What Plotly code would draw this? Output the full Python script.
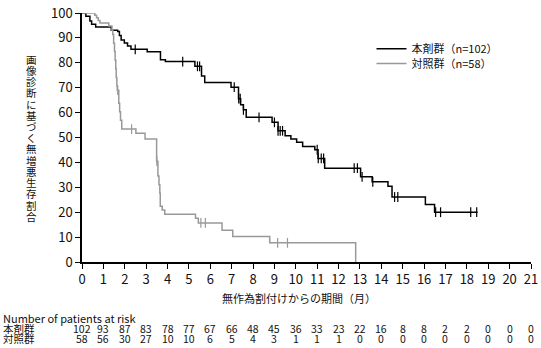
import plotly.graph_objects as go

# ---- data ----
months = list(range(0, 22))

drug_event_t = [0.18, 0.37, 0.45, 0.64, 1.37, 1.67, 1.75, 1.83, 1.98, 2.13, 2.29, 3.05, 3.67, 3.9,
                5.28, 5.59, 5.74, 6.97, 7.32, 7.42, 7.55, 7.68, 8.89, 9.17, 9.5, 9.77, 10.04, 10.32,
                10.89, 11.04, 11.35, 13.03, 13.57, 14.31, 14.5, 16.06, 16.49]
drug_event_s = [98.7, 96.8, 95.5, 94.4, 93.1, 92.6, 91.0, 89.2, 88.0, 86.7, 85.4, 84.4, 81.2, 80.5,
                78.6, 74.7, 72.1, 70.2, 65.6, 63.2, 61.1, 58.1, 56.1, 52.7, 50.7, 49.4, 48.1, 46.4,
                45.1, 41.6, 37.7, 34.2, 32.2, 30.4, 26.1, 23.1, 20.0]
drug_end = 18.5
drug_censor = [2.49, 4.71, 5.4, 5.5, 7.12, 7.33, 7.4, 7.55, 8.28, 9.0, 9.17, 9.27, 9.38, 11.0, 11.05,
               11.19, 11.3, 12.73, 12.88, 13.1, 13.6, 14.62, 14.77, 16.54, 16.77, 18.18, 18.46]

ctrl_event_t = [0.6, 0.68, 0.76, 0.84, 1.25, 1.4, 1.44, 1.48, 1.52, 1.55, 1.58, 1.6, 1.63, 1.65,
                1.72, 1.76, 1.8, 1.86, 2.52, 2.95, 3.49, 3.55, 3.6, 3.64, 3.66, 3.75, 3.87, 5.31,
                5.44, 6.55, 7.05, 8.78, 12.8]
ctrl_event_s = [99.1, 98.1, 97.0, 96.0, 94.8, 93.1, 91.4, 87.9, 84.5, 81.0, 77.6, 74.1, 70.7, 69.0,
                63.8, 60.3, 56.9, 53.4, 51.7, 49.4, 40.5, 34.5, 31.0, 27.6, 22.4, 20.9, 19.2, 17.6,
                15.7, 12.8, 10.2, 7.7, 0.0]
ctrl_end = 12.8
ctrl_censor = [1.67, 2.32, 3.5, 5.56, 5.77, 9.15, 9.61]

risk_drug = [102, 93, 87, 83, 78, 77, 67, 66, 48, 45, 36, 33, 23, 22, 16, 8, 8, 2, 2, 0, 0, 0]
risk_ctrl = [58, 56, 30, 27, 10, 10, 6, 5, 4, 3, 1, 1, 1, 0, 0, 0, 0, 0, 0, 0, 0, 0]

name_drug = "本剤群（n=102）"
name_ctrl = "対照群（n=58）"
row_drug = "本剤群"
row_ctrl = "対照群"
y_title = "画像診断に基づく無増悪生存割合"
x_title = "無作為割付けからの期間（月）"
risk_title = "Number of patients at risk"

FONT = "Noto Sans CJK JP"
BLACK = "#000000"
GRAY = "#999999"
TXT = "#111111"


def step_xy(ts, ss, end):
    xs = [0] + list(ts)
    ys = [100] + list(ss)
    if end > xs[-1]:
        xs.append(end)
        ys.append(ys[-1])
    return xs, ys


def surv_at(t, ts, ss):
    v = 100
    for ti, si in zip(ts, ss):
        if ti <= t:
            v = si
    return v


fig = go.Figure()
for ts, ss, end, cens, col, nm, lg in [
    (drug_event_t, drug_event_s, drug_end, drug_censor, BLACK, name_drug, "legend"),
    (ctrl_event_t, ctrl_event_s, ctrl_end, ctrl_censor, GRAY, name_ctrl, "legend2"),
]:
    xs, ys = step_xy(ts, ss, end)
    fig.add_trace(go.Scatter(x=xs, y=ys, mode="lines", line=dict(color=col, width=1.5, shape="hv"),
                             name=nm, legend=lg, cliponaxis=False))
    fig.add_trace(go.Scatter(x=cens, y=[surv_at(c, ts, ss) for c in cens], mode="markers",
                             marker=dict(symbol="line-ns", size=7, line=dict(color=col, width=1.2)),
                             showlegend=False, cliponaxis=False))

PLOT_L, PLOT_R, PLOT_T, PLOT_B = 82, 538, 5, 262
W, H = 541, 348
pw = PLOT_R - PLOT_L
ph = PLOT_B - PLOT_T


def px_x(p):
    return (p - PLOT_L) / pw


def px_y(p):
    return (PLOT_B - p) / ph


def txt(text, x, y, xanchor="center", xref="paper", size=11, align="center"):
    return dict(text=text, xref=xref, yref="paper", x=x, y=y, showarrow=False,
                font=dict(family=FONT, size=size, color=TXT), xanchor=xanchor, yanchor="middle",
                align=align)


ann = []
n = len(y_title)
top_c, bot_c = 52.5, 215.0
for i, ch in enumerate(y_title):
    yc = top_c + (bot_c - top_c) * i / (n - 1)
    ann.append(txt(ch, px_x(31), px_y(yc), size=10.5))
ann.append(txt(x_title, px_x(302), px_y(299)))
ann.append(txt(risk_title, px_x(0), px_y(319.5), xanchor="left", size=11))
ann.append(txt(row_drug, px_x(0), px_y(330.5), xanchor="left", size=10.5))
ann.append(txt(row_ctrl, px_x(0), px_y(340.5), xanchor="left", size=10.5))
for m, a, b in zip(months, risk_drug, risk_ctrl):
    ann.append(txt(str(a), m, px_y(330.5), xref="x", size=10.5))
    ann.append(txt(str(b), m, px_y(340.5), xref="x", size=10.5))

leg_common = dict(x=px_x(376), xanchor="left", yanchor="middle", bgcolor="rgba(0,0,0,0)",
                  font=dict(family=FONT, size=11, color=TXT), itemwidth=30)

fig.update_layout(
    width=W, height=H,
    margin=dict(l=PLOT_L, r=W - PLOT_R, t=PLOT_T, b=H - PLOT_B),
    plot_bgcolor="white", paper_bgcolor="white",
    font=dict(family=FONT, size=12, color=TXT),
    showlegend=True,
    legend=dict(y=px_y(42), **leg_common),
    legend2=dict(y=px_y(57), **leg_common),
    annotations=ann,
    xaxis=dict(range=[0, 21], tickmode="array", tickvals=months, ticktext=[str(m) for m in months],
               showgrid=False, zeroline=False, showline=True, linecolor=BLACK, linewidth=1.5,
               ticks="outside", ticklen=5, tickwidth=1.2, tickcolor=BLACK, ticklabeloverflow="allow",
               tickfont=dict(family=FONT, size=13, color=TXT)),
    yaxis=dict(range=[0, 100], tickmode="array", tickvals=list(range(0, 101, 10)),
               showgrid=False, zeroline=False, showline=True, linecolor=BLACK, linewidth=1.5,
               ticks="outside", ticklen=5, tickwidth=1.2, tickcolor=BLACK, ticklabeloverflow="allow",
               tickfont=dict(family=FONT, size=13, color=TXT)),
)

fig.write_html("out.html")
